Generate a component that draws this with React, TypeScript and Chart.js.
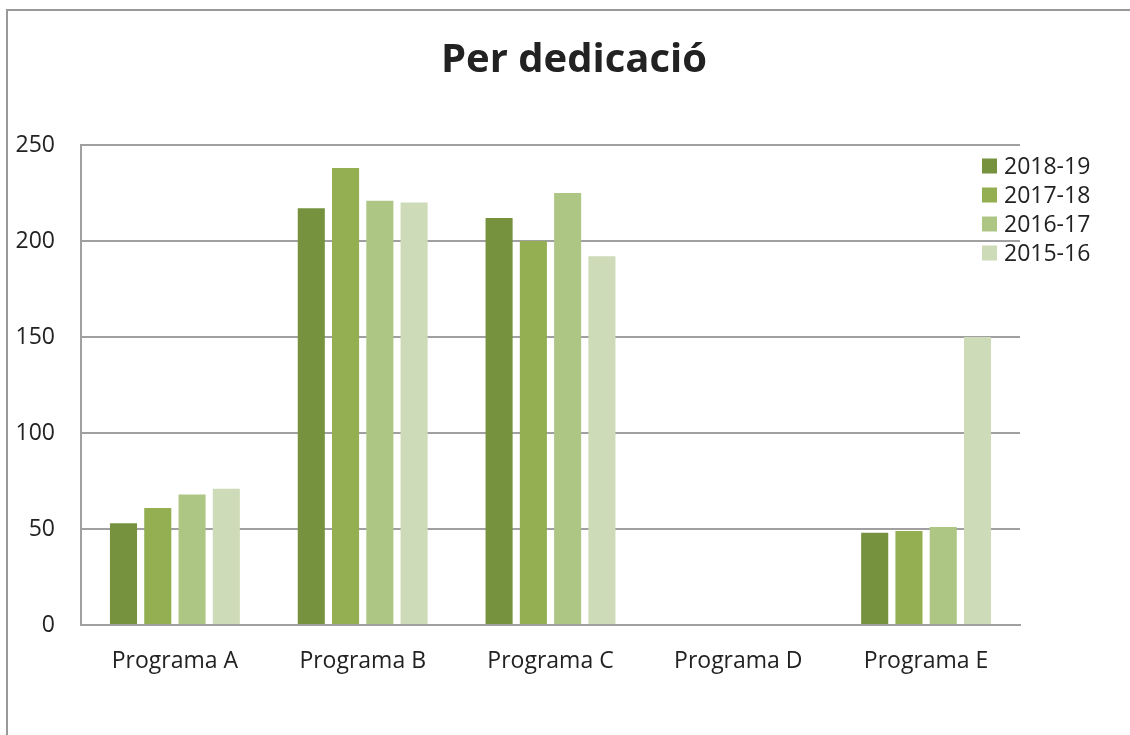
import React, { useEffect, useRef } from "react";
import { Chart, registerables } from "chart.js";

Chart.register(...registerables);

const categories = ["Programa A", "Programa B", "Programa C", "Programa D", "Programa E"];
const seriesLabels = ["2018-19", "2017-18", "2016-17", "2015-16"];
const s2018 = [53, 217, 212, 0, 48];
const s2017 = [61, 238, 200, 0, 49];
const s2016 = [68, 221, 225, 0, 51];
const s2015 = [71, 220, 192, 0, 150];
const seriesColors = ["#77923f", "#93af52", "#aec684", "#cedbb8"];
const yTicks = [0, 50, 100, 150, 200, 250];
const titleText = "Per dedicació";

const FONT = "'Open Sans', 'Noto Sans', sans-serif";

export default function App() {
  const ref = useRef<HTMLCanvasElement | null>(null);

  useEffect(() => {
    if (!ref.current) return;
    const values = [s2018, s2017, s2016, s2015];
    const decor = {
      id: "decor",
      beforeDraw(chart: any) {
        const ctx = chart.ctx;
        ctx.save();
        ctx.fillStyle = "#ffffff";
        ctx.fillRect(0, 0, chart.width, chart.height);
        ctx.strokeStyle = "#999999";
        ctx.lineWidth = 2;
        ctx.beginPath();
        ctx.moveTo(7, chart.height + 2);
        ctx.lineTo(7, 10);
        ctx.lineTo(chart.width + 2, 10);
        ctx.stroke();
        ctx.restore();
      },
      afterDraw(chart: any) {
        const ctx = chart.ctx;
        ctx.save();
        ctx.fillStyle = "#222222";
        ctx.font = `bold 40px ${FONT}`;
        ctx.textAlign = "center";
        ctx.textBaseline = "middle";
        ctx.fillText(titleText, 574, 61);
        ctx.font = `23px ${FONT}`;
        ctx.textAlign = "left";
        chart.data.datasets.forEach((ds: any, i: number) => {
          const cy = 166 + i * 29;
          ctx.fillStyle = ds.backgroundColor;
          ctx.fillRect(982, cy - 7.5, 15, 15);
          ctx.fillStyle = "#222222";
          ctx.fillText(ds.label, 1004, cy + 1);
        });
        ctx.restore();
      },
    };
    const chart = new Chart(ref.current, {
      type: "bar",
      data: {
        labels: categories,
        datasets: seriesLabels.map((label, i) => ({
          label,
          data: values[i],
          backgroundColor: seriesColors[i],
          borderWidth: 0,
          barPercentage: 0.79,
          categoryPercentage: 0.73,
        })),
      },
      options: {
        animation: false,
        responsive: false,
        layout: { padding: { top: 145, right: 110, left: 0, bottom: 0 } },
        plugins: {
          legend: { display: false },
          title: { display: false },
          tooltip: { enabled: false },
        },
        scales: {
          x: {
            grid: { display: false, drawTicks: false },
            border: { display: true, color: "#a0a0a0", width: 2 },
            ticks: { color: "#222222", font: { family: FONT, size: 23 }, padding: 23 },
            afterFit: (s: any) => { s.height = 110; },
          },
          y: {
            min: 0,
            max: 250,
            afterBuildTicks: (s: any) => { s.ticks = yTicks.map((v) => ({ value: v })); },
            grid: { color: "#a0a0a0", lineWidth: 2, drawTicks: false },
            border: { display: true, color: "#a0a0a0", width: 2 },
            ticks: { color: "#222222", font: { family: FONT, size: 23 }, padding: 26 },
            afterFit: (s: any) => { s.width = 81; },
          },
        },
      },
      plugins: [decor],
    });
    return () => chart.destroy();
  }, []);

  return (
    <div style={{ position: "fixed", left: 0, top: 0, width: 1130, height: 735 }}>
      <canvas ref={ref} width={1130} height={735} style={{ display: "block" }} />
    </div>
  );
}
